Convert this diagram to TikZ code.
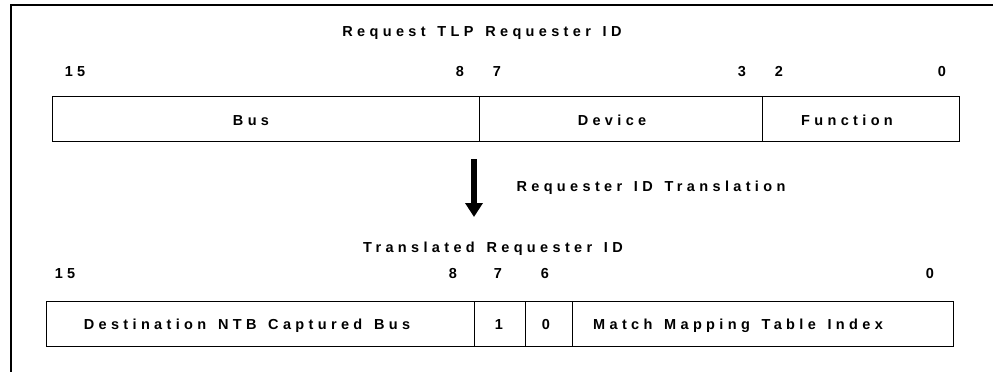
\documentclass[tikz,border=0pt]{standalone}
\usepackage{fontspec}
\setmainfont{Liberation Sans}
\newfontfamily\spaced{Liberation Sans}[LetterSpace=30,WordSpace=1.4]
\usetikzlibrary{arrows.meta}
\begin{document}
\begin{tikzpicture}[x=1pt,y=-1pt,
  lbl/.style={font=\spaced\bfseries\fontsize{14.5}{17}\selectfont, inner sep=0pt, anchor=base},
  fieldbox/.style={draw=black, line width=1pt},
  bigarrow/.style={line width=6pt, -{Triangle[width=17pt,length=14pt]}}]
\useasboundingbox (0,0) rectangle (993,372);
% outer frame (partly cropped)
\draw[line width=2.5pt] (11,400) -- (11,5) -- (1010,5);
% top title and bits
\node[lbl] (t1) at (482,36) {Request TLP Requester ID};
\node[lbl] (b15) at (75,76) {15};
\node[lbl] (b8) at (460,76) {8};
\node[lbl] (b7) at (497,76) {7};
\node[lbl] (b3) at (742,76) {3};
\node[lbl] (b2) at (779,76) {2};
\node[lbl] (b0) at (942,76) {0};
% top fields
\draw[fieldbox] (52,96) rectangle (959,141);
\draw[fieldbox] (479,96) -- (479,141);
\draw[fieldbox] (762,96) -- (762,141);
\node[lbl] (bus) at (251,125) {Bus};
\node[lbl] (dev) at (612,125) {Device};
\node[lbl] (fun) at (847,125) {Function};
% arrow
\coordinate (atop) at (474,159);
\coordinate (atip) at (474,217);
\draw[bigarrow] (atop) -- (atip);
\node[lbl] (tr) at (651,191) {Requester ID Translation};
% bottom title and bits
\node[lbl] (t2) at (493,252) {Translated Requester ID};
\node[lbl] (c15) at (65,278) {15};
\node[lbl] (c8) at (453,278) {8};
\node[lbl] (c7) at (498,278) {7};
\node[lbl] (c6) at (545,278) {6};
\node[lbl] (c0) at (930,278) {0};
% bottom fields
\draw[fieldbox] (46,301) rectangle (953,346);
\draw[fieldbox] (474,301) -- (474,346);
\draw[fieldbox] (525,301) -- (525,346);
\draw[fieldbox] (572,301) -- (572,346);
\node[lbl] (dst) at (247,329) {Destination NTB Captured Bus};
\node[lbl] (one) at (499,329) {1};
\node[lbl] (zero) at (546,329) {0};
\node[lbl] (mm) at (738,329) {Match Mapping Table Index};
\end{tikzpicture}
\end{document}
